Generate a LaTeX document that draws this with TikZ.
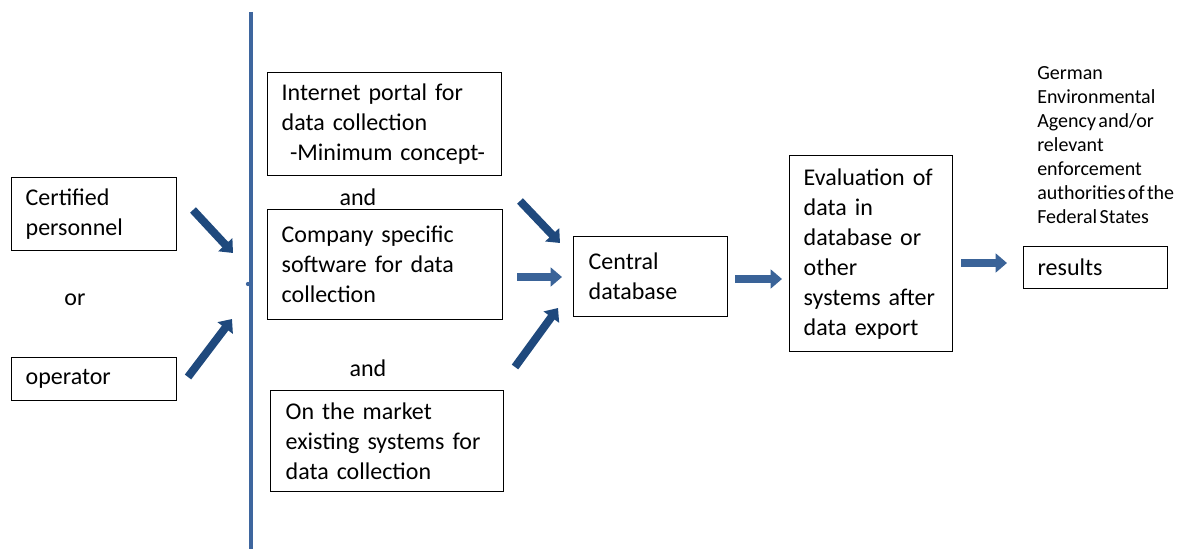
\documentclass[tikz,border=0pt]{standalone}
\usepackage{fontspec}
\setmainfont{Carlito}
\usetikzlibrary{arrows.meta}
\definecolor{arrdark}{RGB}{31,73,125}
\definecolor{arrmid}{RGB}{58,99,152}
\definecolor{vline}{RGB}{62,102,158}
\newcommand\mytightspace{\spaceskip 1.8pt\relax}
\tikzset{
  box/.style={draw=black, line width=1pt, anchor=north west, align=left,
    inner xsep=10.5pt, inner ysep=0pt, font=\fontsize{18}{22.5}\selectfont},
  lbl/.style={inner sep=0pt, font=\fontsize{18}{22.5}\selectfont},
  blockarr/.style={line width=6pt, -{Triangle[length=8.5pt,width=14pt]}},
}
\begin{document}
\begin{tikzpicture}[x=0.75pt,y=-0.75pt]
\useasboundingbox (0,0) rectangle (1183,549);
% boxes
\node[box, text width=102.75pt, minimum width=123.75pt, minimum height=54.75pt] (cert) at (11,177) {Certified\\personnel};
\node[box, text width=102.75pt, minimum width=123.75pt, minimum height=32.25pt] (oper) at (11,357) {operator};
\node[box, text width=154.5pt, minimum width=175.5pt, minimum height=77.25pt] (portal) at (267,72) {Internet portal for\\data collection\\\hspace*{0.35em}-Minimum concept-};
\node[box, text width=155.25pt, minimum width=176.25pt, minimum height=82.5pt] (company) at (267,209) {Company specific\\software for data\\collection};
\node[box, text width=152.25pt, minimum width=174pt, minimum height=75.75pt, inner xsep=11.25pt] (market) at (270,390) {On the market\\existing systems for\\data collection};
\node[box, text width=93pt, minimum width=115.5pt, minimum height=60pt, inner xsep=11.25pt] (central) at (573,236) {Central\\database};
\node[box, text width=101.25pt, minimum width=122.25pt, minimum height=147pt] (eval) at (789,155) {Evaluation of\\data in\\database or\\other\\systems after\\data export};
\node[box, text width=87pt, minimum width=108pt, minimum height=31.5pt] (results) at (1023,246) {results};
% labels
\node[lbl] (or) at (75,300) {or};
\node[lbl] (and1) at (358,197) {and};
\node[lbl] (and2) at (368,368) {and};
\node[anchor=north west, inner sep=0pt, align=left, font=\fontsize{15}{18}\selectfont\mytightspace] (uba) at (1037,66) {German\\Environmental\\Agency and/or\\relevant\\enforcement\\authorities of the\\Federal States};
% vertical bar
\coordinate (vtop) at (251,12);
\coordinate (vbot) at (251,549);
\draw[vline, line width=3pt] (vtop) -- (vbot);
\fill[vline] (248,284) circle (1.6pt);
% arrows
\coordinate (a1s) at (193,210); \coordinate (a1e) at (233,253);
\coordinate (a2s) at (188,377); \coordinate (a2e) at (232,319);
\coordinate (a3s) at (520,201); \coordinate (a3e) at (560,243);
\coordinate (a4s) at (517,277); \coordinate (a4e) at (562,277);
\coordinate (a5s) at (515,367); \coordinate (a5e) at (558,308);
\coordinate (a6s) at (735,279); \coordinate (a6e) at (782,279);
\coordinate (a7s) at (961,263); \coordinate (a7e) at (1007,263);
\draw[blockarr, arrdark] (a1s) -- (a1e);
\draw[blockarr, arrdark] (a2s) -- (a2e);
\draw[blockarr, arrdark] (a3s) -- (a3e);
\draw[blockarr, arrmid] (a4s) -- (a4e);
\draw[blockarr, arrdark] (a5s) -- (a5e);
\draw[blockarr, arrmid] (a6s) -- (a6e);
\draw[blockarr, arrmid] (a7s) -- (a7e);
\end{tikzpicture}
\end{document}
